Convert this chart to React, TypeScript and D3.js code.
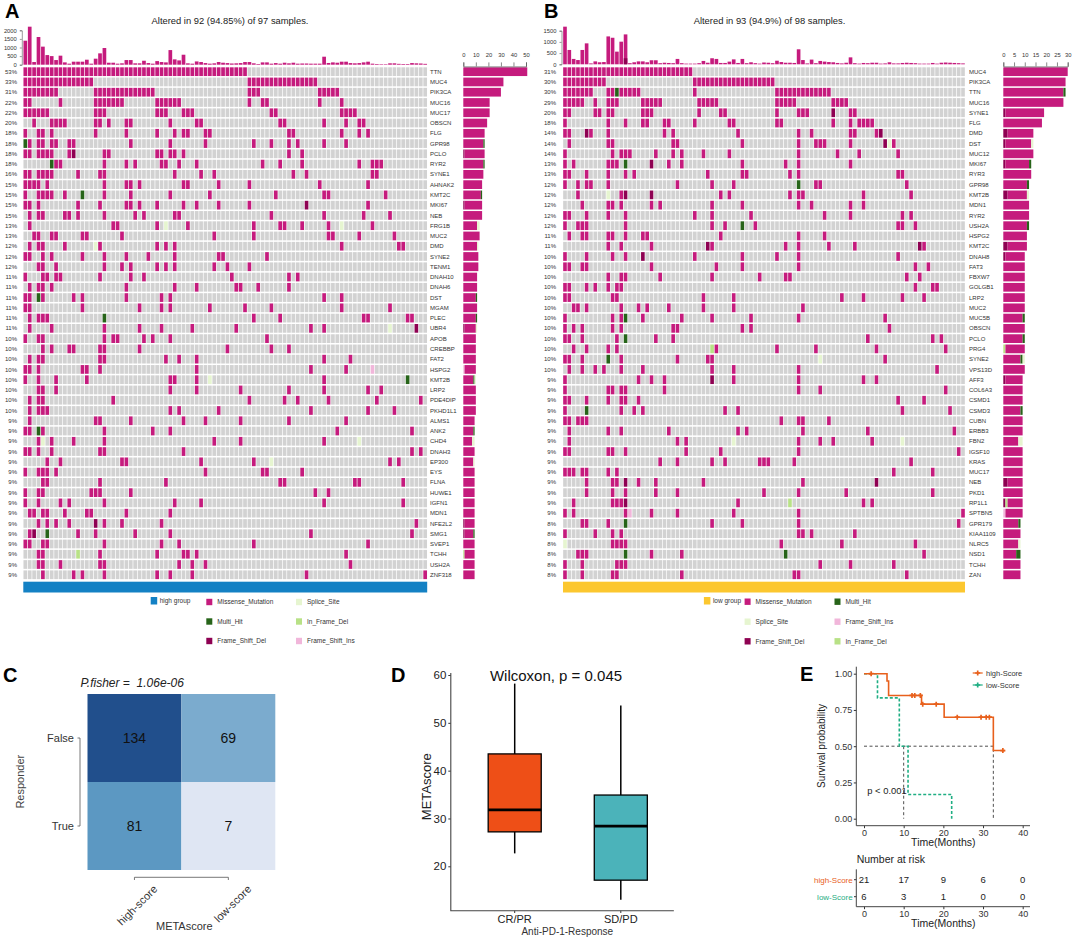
import { useRef, useEffect } from 'react';
import * as d3 from 'd3';

const FONT = '"Liberation Sans", Arial, sans-serif';

// panel A, high group
const genesA = ['TTN', 'MUC4', 'PIK3CA', 'MUC16', 'MUC17', 'OBSCN', 'FLG', 'GPR98', 'PCLO', 'RYR2', 'SYNE1', 'AHNAK2', 'KMT2C', 'MKI67', 'NEB', 'FRG1B', 'MUC2', 'DMD', 'SYNE2', 'TENM1', 'DNAH10', 'DNAH6', 'DST', 'MGAM', 'PLEC', 'UBR4', 'APOB', 'CREBBP', 'FAT2', 'HSPG2', 'KMT2B', 'LRP2', 'PDE4DIP', 'PKHD1L1', 'ALMS1', 'ANK2', 'CHD4', 'DNAH3', 'EP300', 'EYS', 'FLNA', 'HUWE1', 'IGFN1', 'MDN1', 'NFE2L2', 'SMG1', 'SVEP1', 'TCHH', 'USH2A', 'ZNF318'];
const pctA = [53, 33, 31, 22, 22, 20, 18, 18, 18, 18, 16, 15, 15, 15, 15, 13, 13, 12, 12, 12, 11, 11, 11, 11, 11, 11, 10, 10, 10, 10, 10, 10, 10, 10, 9, 9, 9, 9, 9, 9, 9, 9, 9, 9, 9, 9, 9, 9, 9, 9];
const samplesA = [
  [0, 1, 2, 3, 4, 5, 6, 7, 8, 9, 10, 11, 12, 13, 14, 15, 16, 17, 18, 19, 20, 21, 22, 23, 24, 25, 26, 27, 28, 29, 30, 31, 32, 33, 34, 35, 36, 37, 38, 39, 40, 41, 42, 43, 44, 45, 46, 47, 48, 49, 50],
  [0, 1, 2, 3, 4, 5, 6, 7, 8, 9, 10, 11, 12, 13, 14, 15, 51, 52, 53, 54, 55, 56, 57, 58, 59, 60, 61, 62, 63, 64, 65, 66],
  [0, 1, 2, 3, 4, 5, 6, 7, 16, 17, 18, 19, 20, 21, 22, 23, 24, 25, 26, 27, 28, 29, 51, 52, 53, 67, 68, 69, 70, 71],
  [0, 1, 8, 16, 17, 18, 19, 20, 21, 22, 30, 31, 32, 33, 34, 35, 51, 54, 55, 67, 72],
  [0, 1, 2, 3, 4, 5, 16, 17, 18, 30, 31, 32, 36, 37, 38, 56, 57, 72, 73, 74, 75],
  [2, 6, 7, 8, 9, 16, 17, 19, 23, 24, 33, 39, 40, 58, 59, 68, 73, 76, 77],
  [0, 3, 4, 6, 16, 23, 30, 34, 36, 37, 41, 42, 60, 61, 72, 76, 78],
  [0, 1, 3, 4, 6, 7, 10, 11, 24, 33, 41, 52, 56, 60, 62, 68, 73],
  [0, 1, 3, 4, 5, 6, 10, 11, 18, 19, 30, 31, 33, 34, 36, 60, 63],
  [6, 7, 8, 18, 23, 25, 31, 32, 35, 39, 54, 58, 63, 76, 79, 80, 81],
  [0, 1, 3, 4, 5, 6, 12, 17, 18, 34, 40, 43, 61, 64, 79, 80],
  [0, 1, 2, 3, 5, 18, 23, 24, 26, 36, 37, 44, 51, 67, 78],
  [0, 3, 4, 5, 6, 9, 13, 18, 24, 33, 42, 57, 68, 69, 82],
  [0, 1, 3, 12, 17, 23, 24, 26, 30, 36, 39, 44, 51, 64, 78],
  [1, 3, 4, 9, 10, 12, 18, 25, 27, 34, 35, 56, 68, 77, 83],
  [1, 20, 21, 30, 32, 37, 52, 58, 59, 63, 69, 72, 79],
  [2, 3, 6, 7, 13, 14, 22, 43, 52, 69, 70, 76, 84],
  [1, 3, 4, 9, 16, 17, 30, 32, 34, 72, 85, 86],
  [0, 1, 4, 6, 13, 18, 23, 28, 34, 44, 45, 55],
  [3, 4, 7, 18, 22, 24, 30, 32, 34, 43, 46, 51],
  [0, 4, 5, 7, 8, 17, 24, 27, 47, 60, 62],
  [1, 3, 4, 6, 23, 34, 39, 48, 49, 53, 60],
  [0, 1, 3, 4, 11, 13, 23, 31, 33, 68, 72],
  [0, 1, 13, 26, 31, 33, 42, 50, 56, 72, 83],
  [1, 3, 4, 5, 18, 52, 58, 77, 78, 87, 88],
  [1, 6, 18, 26, 31, 38, 48, 65, 68, 83, 89],
  [0, 3, 4, 18, 20, 21, 27, 29, 33, 55],
  [4, 6, 10, 11, 17, 18, 26, 46, 56, 60],
  [1, 3, 4, 17, 18, 32, 35, 39, 68, 74],
  [0, 1, 3, 13, 14, 17, 39, 65, 73, 79],
  [0, 3, 7, 14, 33, 34, 39, 42, 68, 87],
  [3, 4, 7, 33, 39, 49, 60, 68, 78, 81],
  [1, 3, 4, 20, 51, 59, 62, 69, 80, 90],
  [1, 3, 4, 5, 33, 35, 44, 65, 78, 84],
  [1, 16, 17, 24, 36, 41, 49, 60, 73],
  [0, 1, 3, 4, 18, 29, 33, 71, 88],
  [3, 4, 6, 11, 18, 43, 49, 68, 76],
  [0, 1, 3, 6, 17, 18, 36, 88, 90],
  [5, 8, 22, 23, 40, 52, 56, 83, 85],
  [0, 3, 4, 5, 7, 41, 54, 55, 63],
  [4, 5, 17, 32, 58, 59, 75, 76, 86],
  [0, 3, 4, 15, 16, 17, 24, 66, 69],
  [0, 3, 8, 10, 18, 34, 40, 68, 86],
  [1, 2, 4, 5, 9, 14, 15, 23, 33],
  [3, 5, 7, 10, 16, 18, 22, 31, 89],
  [1, 2, 5, 12, 16, 25, 33, 65, 88],
  [0, 1, 4, 5, 18, 31, 35, 52, 78],
  [3, 4, 12, 17, 30, 36, 37, 39, 73],
  [3, 4, 8, 17, 18, 35, 38, 41, 74],
  [4, 11, 13, 18, 30, 33, 38, 64, 91],
];
// [gene row, sample column, class] for every cell that is not a missense mutation
const otherA: [number, number, string][] = [
  [7, 0, 'Multi_Hit'], [8, 11, 'Frame_Shift_Del'], [9, 6, 'Multi_Hit'], [12, 13, 'Multi_Hit'], [13, 64, 'Frame_Shift_Del'],
  [15, 32, 'Splice_Site'], [15, 72, 'Splice_Site'], [17, 16, 'Splice_Site'], [22, 3, 'Multi_Hit'], [24, 18, 'Multi_Hit'],
  [25, 83, 'Splice_Site'], [25, 89, 'Frame_Shift_Del'], [29, 79, 'Frame_Shift_Ins'], [30, 42, 'Splice_Site'], [30, 87, 'Multi_Hit'],
  [35, 3, 'Multi_Hit'], [36, 4, 'Splice_Site'], [36, 76, 'Splice_Site'], [38, 56, 'Splice_Site'], [44, 16, 'Frame_Shift_Del'],
  [45, 2, 'Frame_Shift_Del'], [45, 5, 'Multi_Hit'], [47, 12, 'In_Frame_Del'],
];
const tmbA = [1395, 2210, 155, 1610, 1050, 560, 500, 270, 525, 135, 60, 175, 175, 175, 290, 60, 350, 660, 970, 115, 115, 60, 80, 270, 270, 80, 80, 230, 95, 60, 210, 155, 135, 850, 310, 250, 580, 80, 60, 190, 155, 95, 60, 80, 155, 115, 95, 70, 80, 95, 155, 155, 80, 40, 135, 135, 60, 95, 60, 115, 80, 115, 60, 70, 70, 60, 60, 60, 465, 100, 135, 115, 175, 175, 95, 80, 95, 135, 175, 60, 40, 30, 30, 80, 80, 50, 40, 40, 95, 80, 70, 50];
const tmbTicksA = [0, 500, 1000, 1500, 2000];
const barTicksA = [0, 10, 20, 30, 40, 50];

// panel B, low group
const genesB = ['MUC4', 'PIK3CA', 'TTN', 'MUC16', 'SYNE1', 'FLG', 'DMD', 'DST', 'MUC12', 'MKI67', 'RYR3', 'GPR98', 'KMT2B', 'MDN1', 'RYR2', 'USH2A', 'HSPG2', 'KMT2C', 'DNAH8', 'FAT3', 'FBXW7', 'GOLGB1', 'LRP2', 'MUC2', 'MUC5B', 'OBSCN', 'PCLO', 'PRG4', 'SYNE2', 'VPS13D', 'AFF3', 'COL6A3', 'CSMD1', 'CSMD3', 'CUBN', 'ERBB3', 'FBN2', 'IGSF10', 'KRAS', 'MUC17', 'NEB', 'PKD1', 'RP1L1', 'SPTBN5', 'GPR179', 'KIAA1109', 'NLRC5', 'NSD1', 'TCHH', 'ZAN'];
const pctB = [31, 30, 30, 29, 20, 18, 14, 14, 14, 13, 13, 12, 12, 12, 12, 12, 11, 11, 10, 10, 10, 10, 10, 10, 10, 10, 10, 10, 10, 10, 9, 9, 9, 9, 9, 9, 9, 9, 9, 9, 9, 9, 9, 9, 8, 8, 8, 8, 8, 8];
const samplesB = [
  [0, 1, 2, 3, 4, 5, 6, 7, 8, 9, 10, 11, 12, 13, 14, 15, 16, 17, 18, 19, 20, 21, 22, 23, 24, 25, 26, 27, 28, 29],
  [0, 1, 2, 3, 4, 5, 6, 7, 8, 9, 30, 31, 32, 33, 34, 35, 36, 37, 38, 39, 40, 41, 42, 43, 44, 45, 46, 47, 48],
  [0, 1, 2, 3, 4, 5, 6, 10, 11, 12, 13, 14, 15, 16, 17, 30, 49, 50, 51, 52, 53, 54, 55, 56, 57, 58, 59, 60, 61],
  [0, 1, 2, 3, 4, 7, 10, 11, 12, 18, 19, 20, 21, 22, 31, 32, 33, 34, 35, 49, 50, 51, 52, 53, 62, 63, 64, 65],
  [0, 1, 7, 8, 10, 11, 18, 19, 20, 31, 36, 37, 49, 54, 55, 56, 62, 66, 67],
  [0, 10, 14, 18, 19, 23, 24, 30, 38, 39, 49, 50, 62, 66, 68, 69, 70, 71],
  [0, 1, 5, 6, 10, 23, 25, 40, 54, 57, 66, 67, 72, 73],
  [1, 10, 11, 25, 26, 41, 54, 58, 59, 60, 66, 74, 75, 76],
  [0, 11, 13, 14, 15, 21, 25, 27, 32, 38, 54, 63, 68, 77],
  [0, 2, 10, 11, 12, 14, 20, 24, 27, 41, 51, 54, 66],
  [0, 1, 5, 10, 14, 16, 33, 41, 42, 52, 54, 77, 78],
  [0, 3, 5, 6, 10, 26, 34, 39, 54, 58, 59, 79],
  [3, 10, 13, 14, 20, 36, 38, 52, 54, 55, 69, 80],
  [4, 10, 11, 13, 20, 22, 34, 41, 54, 57, 66, 69],
  [0, 1, 5, 10, 14, 30, 34, 43, 60, 66, 78, 80],
  [0, 3, 4, 5, 14, 34, 37, 41, 44, 77, 78, 81],
  [1, 4, 5, 10, 11, 14, 18, 19, 36, 54, 60],
  [10, 13, 20, 33, 34, 51, 54, 61, 67, 82, 83],
  [0, 5, 11, 14, 18, 30, 41, 49, 54, 77],
  [0, 1, 4, 5, 20, 35, 41, 54, 81, 84],
  [10, 13, 14, 22, 34, 45, 51, 52, 79, 82],
  [0, 1, 5, 7, 10, 12, 13, 81, 85, 86],
  [0, 1, 11, 12, 32, 39, 64, 69, 78, 83],
  [2, 3, 5, 13, 17, 19, 24, 32, 39, 55],
  [0, 11, 13, 14, 18, 27, 34, 43, 54, 74],
  [0, 2, 4, 11, 13, 25, 26, 41, 43, 75],
  [0, 1, 4, 12, 14, 21, 25, 70, 85, 87],
  [2, 5, 10, 12, 34, 35, 49, 58, 72, 88],
  [0, 1, 4, 10, 13, 26, 33, 34, 59, 74],
  [1, 4, 7, 9, 13, 18, 34, 39, 54, 86],
  [0, 17, 20, 23, 34, 39, 54, 69, 72],
  [0, 10, 11, 13, 14, 23, 54, 59, 88],
  [0, 1, 5, 10, 13, 14, 17, 77, 83],
  [0, 5, 13, 16, 18, 37, 40, 78, 89],
  [0, 1, 3, 4, 5, 50, 54, 55, 61],
  [1, 10, 13, 24, 40, 42, 55, 70, 90],
  [1, 26, 28, 39, 54, 59, 62, 71, 78],
  [0, 1, 10, 11, 14, 28, 36, 54, 91],
  [22, 26, 34, 37, 45, 46, 47, 53, 80],
  [0, 1, 2, 4, 5, 10, 12, 76, 85],
  [5, 11, 12, 14, 17, 21, 32, 55, 72],
  [5, 11, 14, 21, 26, 46, 54, 65, 85],
  [2, 11, 12, 13, 14, 40, 52, 69, 71],
  [0, 2, 14, 15, 20, 26, 39, 54, 92],
  [4, 5, 10, 14, 34, 41, 54, 91],
  [0, 7, 11, 13, 54, 55, 57, 67],
  [0, 11, 12, 13, 14, 50, 64, 81],
  [3, 4, 5, 14, 20, 27, 51, 83],
  [0, 4, 12, 13, 14, 59, 66, 76],
  [0, 4, 11, 12, 27, 53, 54, 79],
];
const otherB: [number, number, string][] = [
  [2, 12, 'Multi_Hit'], [4, 62, 'Frame_Shift_Del'], [6, 5, 'Frame_Shift_Del'], [6, 73, 'Frame_Shift_Del'], [7, 74, 'Frame_Shift_Del'],
  [7, 75, 'Splice_Site'], [9, 14, 'Multi_Hit'], [9, 20, 'Frame_Shift_Del'], [11, 54, 'Multi_Hit'], [12, 10, 'Splice_Site'],
  [12, 14, 'Frame_Shift_Del'], [12, 20, 'Frame_Shift_Del'], [15, 41, 'Multi_Hit'], [17, 33, 'Frame_Shift_Del'], [17, 82, 'Frame_Shift_Del'],
  [18, 18, 'Frame_Shift_Del'], [24, 14, 'Multi_Hit'], [26, 14, 'Multi_Hit'], [27, 34, 'In_Frame_Del'], [28, 10, 'Multi_Hit'],
  [28, 59, 'Splice_Site'], [30, 34, 'Frame_Shift_Del'], [33, 5, 'Multi_Hit'], [36, 39, 'Splice_Site'], [36, 78, 'Splice_Site'],
  [40, 14, 'Frame_Shift_Del'], [40, 72, 'Frame_Shift_Del'], [42, 14, 'Frame_Shift_Del'], [42, 52, 'In_Frame_Del'], [43, 15, 'Frame_Shift_Ins'],
  [44, 14, 'Multi_Hit'], [46, 0, 'Splice_Site'], [47, 14, 'Multi_Hit'], [47, 51, 'Multi_Hit'],
];
const tmbB = [1680, 640, 240, 190, 640, 935, 40, 130, 90, 100, 1245, 1185, 565, 1010, 1335, 50, 90, 130, 130, 90, 180, 180, 50, 70, 60, 50, 240, 50, 30, 30, 30, 50, 150, 70, 270, 240, 60, 60, 120, 220, 60, 240, 50, 90, 50, 30, 80, 70, 50, 160, 100, 70, 70, 60, 670, 190, 40, 210, 50, 150, 120, 100, 90, 60, 40, 70, 310, 50, 30, 60, 50, 70, 70, 30, 40, 90, 40, 40, 60, 70, 60, 50, 30, 30, 30, 60, 30, 70, 80, 70, 60, 50, 40];
const tmbDarkB: [number, number][] = [[14, 270]];
const tmbTicksB = [0, 500, 1000, 1500];
const barTicksB = [0, 5, 10, 15, 20, 25, 30];

const classOrder = ['Frame_Shift_Del', 'Frame_Shift_Ins', 'In_Frame_Del', 'Missense_Mutation', 'Multi_Hit', 'Splice_Site'];
const classColor = d3.scaleOrdinal<string, string>()
  .domain(classOrder)
  .range(['#8E0152', '#F1B6DA', '#B8E186', '#C51B7D', '#276419', '#E6F5D0']);

// panel C
const heatColumns = ['high-score', 'low-score'];
const heatRows = ['False', 'True'];
const heatValues = [[134, 69], [81, 7]];

// panel D
const boxGroups = ['CR/PR', 'SD/PD'];
const boxLow = [22.7, 13.0];
const boxQ1 = [27.2, 17.1];
const boxMedian = [31.8, 28.4];
const boxQ3 = [43.5, 34.9];
const boxHigh = [58.2, 53.6];
const boxColors = ['#EE4F17', '#4BB3BA'];
const boxTicks = [20, 30, 40, 50, 60];

// panel E
const timeHigh = [0, 5.8, 6.2, 14.5, 20.2, 32.6, 35.5];
const survHigh = [1, 0.95, 0.85, 0.79, 0.7, 0.47, 0.47];
const censorTimeHigh = [1.8, 12.1, 12.8, 14.2, 14.8, 18.2, 23.5, 29.5, 30.8, 31.6, 35];
const censorSurvHigh = [1, 0.85, 0.85, 0.85, 0.79, 0.79, 0.7, 0.7, 0.7, 0.7, 0.47];
const timeLow = [0, 3.4, 8.9, 11.1, 22.1];
const survLow = [1, 0.833, 0.5, 0.167, 0];
const riskTimes = [0, 10, 20, 30, 40];
const riskHigh = [21, 17, 9, 6, 0];
const riskLow = [6, 3, 1, 0, 0];
const survTicks = [0, 0.25, 0.5, 0.75, 1];
const HIGH_COLOR = '#E8601C';
const LOW_COLOR = '#1FAE83';

const txt = (g, x, y, s, size, opts: any = {}) => g.append('text')
  .attr('x', x)
  .attr('y', y)
  .attr('dy', '0.35em')
  .attr('text-anchor', opts.anchor || 'start')
  .attr('font-size', size)
  .attr('font-family', FONT)
  .attr('font-weight', opts.weight || 'normal')
  .attr('font-style', opts.style || 'normal')
  .attr('fill', opts.fill || '#222')
  .attr('transform', opts.rotate ? `rotate(${opts.rotate},${x},${y})` : null)
  .text(s);

function drawOncoplot(svg, p) {
  const nCols = p.tmb.length;
  const x = d3.scaleBand<number>().domain(d3.range(nCols)).range([p.x0, p.x1]).paddingInner(0.16).paddingOuter(0.04);
  const y = d3.scaleBand<number>().domain(d3.range(p.genes.length)).range([66.6, 66.6 + 50 * 10.265]).paddingInner(0.15).paddingOuter(0.07);
  const other = new Map<string, string>(p.other.map(([r, c, k]) => [`${r}-${c}`, k]));

  // grey matrix and mutated cells
  const grid = svg.append('g');
  p.genes.forEach((_, r) => {
    const hit = new Set(p.samples[r]);
    d3.range(nCols).forEach(c => {
      const kind = hit.has(c) ? (other.get(`${r}-${c}`) || 'Missense_Mutation') : null;
      grid.append('rect')
        .attr('x', x(c))
        .attr('y', y(r))
        .attr('width', x.bandwidth())
        .attr('height', y.bandwidth())
        .attr('fill', kind ? classColor(kind) : '#D2D2D2');
    });
    txt(svg, p.pctX, y(r) + y.bandwidth() / 2, `${p.pct[r]}%`, 6, { anchor: 'end', fill: '#333' });
    txt(svg, p.geneX, y(r) + y.bandwidth() / 2, p.genes[r], 6, { fill: '#333' });

    // stacked total on the right
    let acc = 0;
    classOrder.forEach(k => {
      const n = p.samples[r].filter(c => (other.get(`${r}-${c}`) || 'Missense_Mutation') === k).length;
      if (!n) return;
      svg.append('rect')
        .attr('x', p.barScale(acc))
        .attr('y', y(r))
        .attr('width', p.barScale(acc + n) - p.barScale(acc))
        .attr('height', y.bandwidth())
        .attr('fill', classColor(k));
      acc += n;
    });
  });

  // mutation burden on top
  const tmbScale = d3.scaleLinear().domain([0, p.tmbMax]).range([p.tmbY0, p.tmbYMax]);
  const top = svg.append('g');
  top.selectAll('rect').data(p.tmb).enter().append('rect')
    .attr('x', (_, i) => x(i))
    .attr('y', d => tmbScale(d))
    .attr('width', x.bandwidth())
    .attr('height', d => p.tmbY0 - tmbScale(d))
    .attr('fill', classColor('Missense_Mutation'));
  p.tmbDark.forEach(([c, v]) => {
    top.append('rect')
      .attr('x', x(c))
      .attr('y', tmbScale(v))
      .attr('width', x.bandwidth())
      .attr('height', p.tmbY0 - tmbScale(v))
      .attr('fill', classColor('Frame_Shift_Del'));
  });
  const left = svg.append('g')
    .attr('transform', `translate(${p.x0 - 1.5},0)`)
    .call(d3.axisLeft(tmbScale).tickValues(p.tmbTicks).tickSize(2).tickFormat(d3.format('d')));
  left.selectAll('text').attr('font-size', 5.8).attr('font-family', FONT).attr('fill', '#333');
  left.selectAll('line,path').attr('stroke', '#555').attr('stroke-width', 0.6);

  const axisTop = svg.append('g')
    .attr('transform', 'translate(0,66.4)')
    .call(d3.axisTop(p.barScale).tickValues(p.barTicks).tickSize(4).tickPadding(5));
  axisTop.selectAll('text').attr('font-size', 5.8).attr('font-family', FONT).attr('fill', '#333');
  axisTop.selectAll('line,path').attr('stroke', '#555').attr('stroke-width', 0.7);

  // group annotation
  svg.append('rect')
    .attr('x', p.x0)
    .attr('y', 581.7)
    .attr('width', p.x1 - p.x0)
    .attr('height', 10.8)
    .attr('fill', p.groupColor);

  txt(svg, p.titleX, 21, p.title, 9.4, { anchor: 'middle', fill: '#222' });
  txt(svg, p.letterX, 11, p.letter, 20, { weight: 'bold', fill: '#000' });

  // legend
  const legend = svg.append('g');
  legend.append('rect').attr('x', p.groupSq).attr('y', 597).attr('width', 6.5).attr('height', 7.5).attr('fill', p.groupColor);
  txt(legend, p.groupSq + 9, 601, p.groupLabel, 6.5, { fill: '#333' });
  p.legend.forEach(([k, col, row]) => {
    legend.append('rect')
      .attr('x', p.legendSq[col])
      .attr('y', p.legendY[row] - 3.2)
      .attr('width', 6)
      .attr('height', 6.4)
      .attr('fill', classColor(k));
    txt(legend, p.legendSq[col] + 11, p.legendY[row], k, 6.5, { fill: '#333' });
  });
}

function drawHeatmap(svg) {
  const x = d3.scaleBand().domain(heatColumns).range([87.5, 275.3]);
  const y = d3.scaleBand().domain(heatRows).range([694, 870]);
  const color = d3.scaleLinear<string>().domain([7, 69, 81, 134]).range(['#DFE6F3', '#7BABCE', '#5C98C2', '#214F8C']);
  heatRows.forEach((r, i) => heatColumns.forEach((c, j) => {
    svg.append('rect').attr('x', x(c)).attr('y', y(r)).attr('width', x.bandwidth()).attr('height', y.bandwidth()).attr('fill', color(heatValues[i][j]));
    txt(svg, x(c) + x.bandwidth() / 2, y(r) + y.bandwidth() / 2, heatValues[i][j], 14, { anchor: 'middle', fill: '#111' });
  }));
  heatRows.forEach(r => txt(svg, 74, y(r) + y.bandwidth() / 2, r, 11, { anchor: 'end', fill: '#333' }));
  const yc0 = y('False') + y.bandwidth() / 2;
  const yc1 = y('True') + y.bandwidth() / 2;
  svg.append('path').attr('d', `M77.5,${yc0}H80V${yc1}H77.5`).attr('fill', 'none').attr('stroke', '#555').attr('stroke-width', 0.8);
  const xc0 = x('high-score') + x.bandwidth() / 2;
  const xc1 = x('low-score') + x.bandwidth() / 2;
  svg.append('path').attr('d', `M${xc0},880V877.3H${xc1}V880`).attr('fill', 'none').attr('stroke', '#555').attr('stroke-width', 0.8);
  heatColumns.forEach(c => txt(svg, x(c) + x.bandwidth() / 2 + 21, 887, c, 11, { anchor: 'end', rotate: -45, fill: '#333' }));
  txt(svg, 184.3, 926, 'METAscore', 11, { anchor: 'middle', fill: '#333' });
  txt(svg, 20, 781.7, 'Responder', 11, { anchor: 'middle', rotate: -90, fill: '#444' });
  txt(svg, 80.4, 683, 'P.fisher =\u00A0 1.06e-06', 12, { style: 'italic', fill: '#222' });
  txt(svg, 3, 675, 'C', 20, { weight: 'bold', fill: '#000' });
}

function drawBoxes(svg) {
  const x = d3.scaleBand().domain(boxGroups).range([461.65, 673.85]);
  const y = d3.scaleLinear().domain([20, 60]).range([866.3, 675]);
  const bw = x.bandwidth() * 0.5;
  boxGroups.forEach((g, i) => {
    const cx = x(g) + x.bandwidth() / 2;
    svg.append('line').attr('x1', cx).attr('x2', cx).attr('y1', y(boxHigh[i])).attr('y2', y(boxLow[i])).attr('stroke', '#000').attr('stroke-width', 1.5);
    svg.append('rect').attr('x', cx - bw / 2).attr('y', y(boxQ3[i])).attr('width', bw).attr('height', y(boxQ1[i]) - y(boxQ3[i])).attr('fill', boxColors[i]).attr('stroke', '#000').attr('stroke-width', 1.3);
    svg.append('line').attr('x1', cx - bw / 2).attr('x2', cx + bw / 2).attr('y1', y(boxMedian[i])).attr('y2', y(boxMedian[i])).attr('stroke', '#000').attr('stroke-width', 2.6);
    svg.append('line').attr('x1', cx).attr('x2', cx).attr('y1', 910.7).attr('y2', 913).attr('stroke', '#333');
    txt(svg, cx, 919.5, g, 11, { anchor: 'middle', fill: '#222' });
  });
  const left = svg.append('g').attr('transform', 'translate(450.8,0)').call(d3.axisLeft(y).tickValues(boxTicks).tickSize(2.5).tickPadding(2));
  left.selectAll('text').attr('font-size', 11.5).attr('font-family', FONT).attr('fill', '#222');
  left.selectAll('line').attr('stroke', '#333');
  left.select('path').remove();
  svg.append('path').attr('d', 'M450.8,673V910.7H673.85').attr('fill', 'none').attr('stroke', '#444').attr('stroke-width', 1.1);
  txt(svg, 556, 676, 'Wilcoxon, p = 0.045', 15, { anchor: 'middle', fill: '#111' });
  txt(svg, 426, 786.7, 'METAscore', 13, { anchor: 'middle', rotate: -90, fill: '#222' });
  txt(svg, 567.3, 931, 'Anti-PD-1-Response', 10, { anchor: 'middle', fill: '#333' });
  txt(svg, 391, 675, 'D', 20, { weight: 'bold', fill: '#000' });
}

function drawSurvival(svg) {
  const x = d3.scaleLinear().domain([0, 40]).range([864, 1022.7]);
  const y = d3.scaleLinear().domain([0, 1]).range([818.7, 673.7]);
  const curve = (times, survs) => d3.line<number>().x(d => x(d)).y((_, i) => y(survs[i])).curve(d3.curveStepAfter)(times);

  // median guide lines
  svg.append('path').attr('d', `M${x(0)},${y(0.5)}H${x(32.6)}V${y(0)}M${x(10)},${y(0.5)}V${y(0)}`)
    .attr('fill', 'none').attr('stroke', '#222').attr('stroke-width', 0.8).attr('stroke-dasharray', '3,2.5');
  svg.append('path').attr('d', curve(timeLow, survLow)).attr('fill', 'none').attr('stroke', LOW_COLOR).attr('stroke-width', 1.6).attr('stroke-dasharray', '3,2');
  svg.append('path').attr('d', curve(timeHigh, survHigh)).attr('fill', 'none').attr('stroke', HIGH_COLOR).attr('stroke-width', 1.6);
  const cross = d3.symbol().type(d3.symbolCross).size(14);
  censorTimeHigh.forEach((t, i) => {
    svg.append('path').attr('d', cross()).attr('transform', `translate(${x(t)},${y(censorSurvHigh[i])})`).attr('fill', HIGH_COLOR);
  });

  const styleAxis = g => {
    g.selectAll('text').attr('font-size', 9).attr('font-family', FONT).attr('fill', '#333');
    g.selectAll('line').attr('stroke', '#333');
    g.select('path').remove();
  };
  svg.append('g').attr('transform', 'translate(856.3,0)').call(d3.axisLeft(y).tickValues(survTicks).tickFormat(d3.format('.2f')).tickSize(2.5).tickPadding(1.5)).call(styleAxis);
  svg.append('g').attr('transform', 'translate(0,825.7)').call(d3.axisBottom(x).tickValues(riskTimes).tickSize(2.5).tickPadding(1.5)).call(styleAxis);
  svg.append('path').attr('d', 'M856.3,666.7V825.7H1030').attr('fill', 'none').attr('stroke', '#444').attr('stroke-width', 1);

  txt(svg, 821.7, 746, 'Survival probability', 10, { anchor: 'middle', rotate: -90, fill: '#222' });
  txt(svg, 943.3, 842.5, 'Time(Months)', 10.5, { anchor: 'middle', fill: '#222' });
  txt(svg, 867.3, 790.3, 'p < 0.001', 9.4, { fill: '#222' });

  // legend
  [['high-Score', HIGH_COLOR, 673], ['low-Score', LOW_COLOR, 685]].forEach(([s, c, yy]) => {
    svg.append('line').attr('x1', 972.7).attr('x2', 982.7).attr('y1', yy).attr('y2', yy).attr('stroke', c).attr('stroke-width', 1.2);
    svg.append('path').attr('d', cross()).attr('transform', `translate(977.7,${yy})`).attr('fill', c);
    txt(svg, 986, yy, s, 7.5, { fill: '#333' });
  });

  // risk table
  txt(svg, 856.7, 859.3, 'Number at risk', 10.5, { fill: '#222' });
  const rows = d3.scaleBand().domain(['high-Score', 'low-Score']).range([871.2, 905.2]);
  const rowC = k => rows(k) + rows.bandwidth() / 2;
  riskTimes.forEach((t, i) => {
    txt(svg, x(t), rowC('high-Score'), riskHigh[i], 9.5, { anchor: 'middle', fill: '#222' });
    txt(svg, x(t), rowC('low-Score'), riskLow[i], 9.5, { anchor: 'middle', fill: '#222' });
  });
  txt(svg, 852.7, rowC('high-Score'), 'high-Score', 8, { anchor: 'end', fill: HIGH_COLOR });
  txt(svg, 852.7, rowC('low-Score'), 'low-Score', 8, { anchor: 'end', fill: LOW_COLOR });
  rows.domain().forEach(k => svg.append('line').attr('x1', 854).attr('x2', 856.3).attr('y1', rowC(k)).attr('y2', rowC(k)).attr('stroke', '#333'));
  svg.append('g').attr('transform', 'translate(0,906.7)').call(d3.axisBottom(x).tickValues(riskTimes).tickSize(2.5).tickPadding(1)).call(styleAxis);
  svg.append('path').attr('d', 'M856.3,869.3V906.7H1030').attr('fill', 'none').attr('stroke', '#444').attr('stroke-width', 1);
  txt(svg, 943.3, 923.5, 'Time(Months)', 10.5, { anchor: 'middle', fill: '#222' });
  txt(svg, 800, 674, 'E', 20, { weight: 'bold', fill: '#000' });
}

const App = () => {
  const ref = useRef<SVGSVGElement>(null);

  useEffect(() => {
    document.body.style.margin = '0';
    const svg = d3.select(ref.current);
    svg.selectAll('*').remove();

    drawOncoplot(svg, {
      letter: 'A', letterX: 5, title: 'Altered in 92 (94.85%) of 97 samples.', titleX: 230,
      genes: genesA, pct: pctA, samples: samplesA, other: otherA, tmb: tmbA, tmbDark: [],
      x0: 23.3, x1: 427.2, pctX: 17, geneX: 430,
      tmbMax: 2000, tmbY0: 64.7, tmbYMax: 30.3, tmbTicks: tmbTicksA,
      barScale: d3.scaleLinear().domain([0, 50]).range([463.3, 526]), barTicks: barTicksA,
      groupColor: '#1481C4', groupLabel: 'high group', groupSq: 150.7,
      legendSq: [206.3, 296], legendY: [602, 621.5, 641],
      legend: [['Missense_Mutation', 0, 0], ['Multi_Hit', 0, 1], ['Frame_Shift_Del', 0, 2], ['Splice_Site', 1, 0], ['In_Frame_Del', 1, 1], ['Frame_Shift_Ins', 1, 2]],
    });
    drawOncoplot(svg, {
      letter: 'B', letterX: 544, title: 'Altered in 93 (94.9%) of 98 samples.', titleX: 769.5,
      genes: genesB, pct: pctB, samples: samplesB, other: otherB, tmb: tmbB, tmbDark: tmbDarkB,
      x0: 563, x1: 965, pctX: 556, geneX: 969,
      tmbMax: 1500, tmbY0: 64.3, tmbYMax: 30.7, tmbTicks: tmbTicksB,
      barScale: d3.scaleLinear().domain([0, 30]).range([1003.3, 1067.7]), barTicks: barTicksB,
      groupColor: '#FCC72F', groupLabel: 'low group', groupSq: 703.9,
      legendSq: [744.6, 834.5], legendY: [601.7, 621.7, 641.3],
      legend: [['Missense_Mutation', 0, 0], ['Splice_Site', 0, 1], ['Frame_Shift_Del', 0, 2], ['Multi_Hit', 1, 0], ['Frame_Shift_Ins', 1, 1], ['In_Frame_Del', 1, 2]],
    });
    drawHeatmap(svg);
    drawBoxes(svg);
    drawSurvival(svg);
  }, []);

  return <svg ref={ref} width={1072} height={937} style={{ display: 'block', background: '#fff' }}></svg>;
};

export default App;
